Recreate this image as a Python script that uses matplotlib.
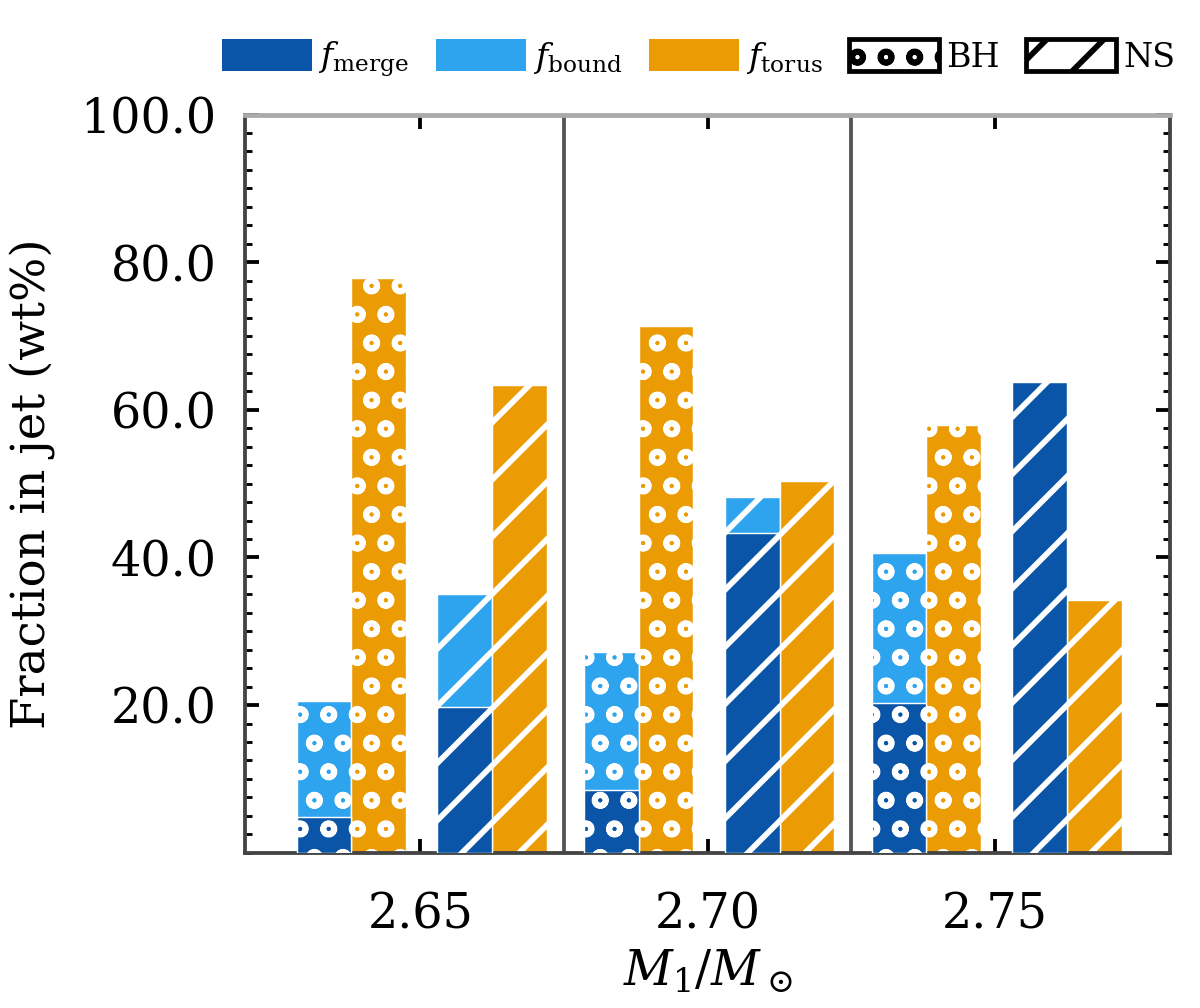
import numpy as np
from matplotlib import pyplot as plt
from matplotlib.patches import Patch
from matplotlib.ticker import MultipleLocator

plt.rcParams['font.family'] = ['DejaVu Serif']
plt.rcParams['mathtext.fontset'] = 'dejavuserif'
plt.rcParams['hatch.linewidth'] = 1.2

masses = ['2.65', '2.70', '2.75']

# bars drawn with "oo" hatch (BH) and "/" hatch (NS)
f_merge_bh = [4.9, 8.5, 20.3]
f_bound_bh = [20.5, 27.2, 40.6]
f_torus_bh = [77.9, 71.4, 58.0]

f_merge_ns = [19.8, 43.3, 63.7]
f_bound_ns = [35.0, 48.2, 33.9]
f_torus_ns = [63.4, 50.4, 34.3]

c_dark = '#0a55a8'
c_light = '#2ea4ee'
c_orange = '#eb9c05'

fig = plt.figure(figsize=(3.5, 2.94), dpi=343)
ax = fig.add_axes([0.204, 0.154, 0.771, 0.732])

x = np.arange(len(masses))
w = 0.19
off = [-0.335, -0.145, 0.155, 0.345]

kw = dict(width=w, edgecolor='white', linewidth=0.3)
ax.bar(x + off[0], f_bound_bh, color=c_light, hatch='oo', zorder=2, **kw)
ax.bar(x + off[0], f_merge_bh, color=c_dark, hatch='oo', zorder=3, **kw)
ax.bar(x + off[1], f_torus_bh, color=c_orange, hatch='oo', zorder=2, **kw)
ax.bar(x + off[2], f_bound_ns, color=c_light, hatch='//', zorder=2, **kw)
ax.bar(x + off[2], f_merge_ns, color=c_dark, hatch='//', zorder=3, **kw)
ax.bar(x + off[3], f_torus_ns, color=c_orange, hatch='//', zorder=2, **kw)

for xv in [0.5, 1.5]:
    ax.axvline(xv, color='#555555', lw=0.8, zorder=1)

ax.set_xlim(-0.61, 2.61)
ax.set_ylim(0, 100)
ax.set_xticks(x)
ax.set_xticklabels(masses)
ax.set_yticks([20, 40, 60, 80, 100])
ax.set_yticklabels(['%.1f' % v for v in [20, 40, 60, 80, 100]])
ax.yaxis.set_minor_locator(MultipleLocator(2.5))
ax.tick_params(axis='both', which='both', direction='in', top=True, right=True, labelsize=10)
ax.tick_params(axis='both', which='major', length=3, width=0.8)
ax.tick_params(axis='y', which='minor', length=1.5, width=0.6)
ax.tick_params(axis='x', which='major', pad=8)
ax.tick_params(axis='y', which='major', pad=6)

for s in ['left', 'right', 'bottom']:
    ax.spines[s].set_color('#444444')
    ax.spines[s].set_linewidth(0.8)
ax.spines['top'].set_color('#aaaaaa')
ax.spines['top'].set_linewidth(1.0)

ax.set_xlabel(r'$M_1/M_\odot$', fontsize=10, labelpad=2)
ax.set_ylabel('Fraction in jet (wt%)', fontsize=9.8, labelpad=5)

handles = [
    Patch(facecolor=c_dark, edgecolor='none', label=r'$f_{\rm merge}$'),
    Patch(facecolor=c_light, edgecolor='none', label=r'$f_{\rm bound}$'),
    Patch(facecolor=c_orange, edgecolor='none', label=r'$f_{\rm torus}$'),
    Patch(facecolor='white', edgecolor='black', hatch='oo', label='BH'),
    Patch(facecolor='white', edgecolor='black', hatch='//', label='NS'),
]
ax.legend(handles=handles, loc='lower center', bbox_to_anchor=(0.49, 1.03), ncol=5,
          frameon=False, fontsize=7, handlelength=2.7, handleheight=1.1,
          handletextpad=0.2, columnspacing=0.8, borderaxespad=0)

plt.savefig('out.png', dpi=343)
